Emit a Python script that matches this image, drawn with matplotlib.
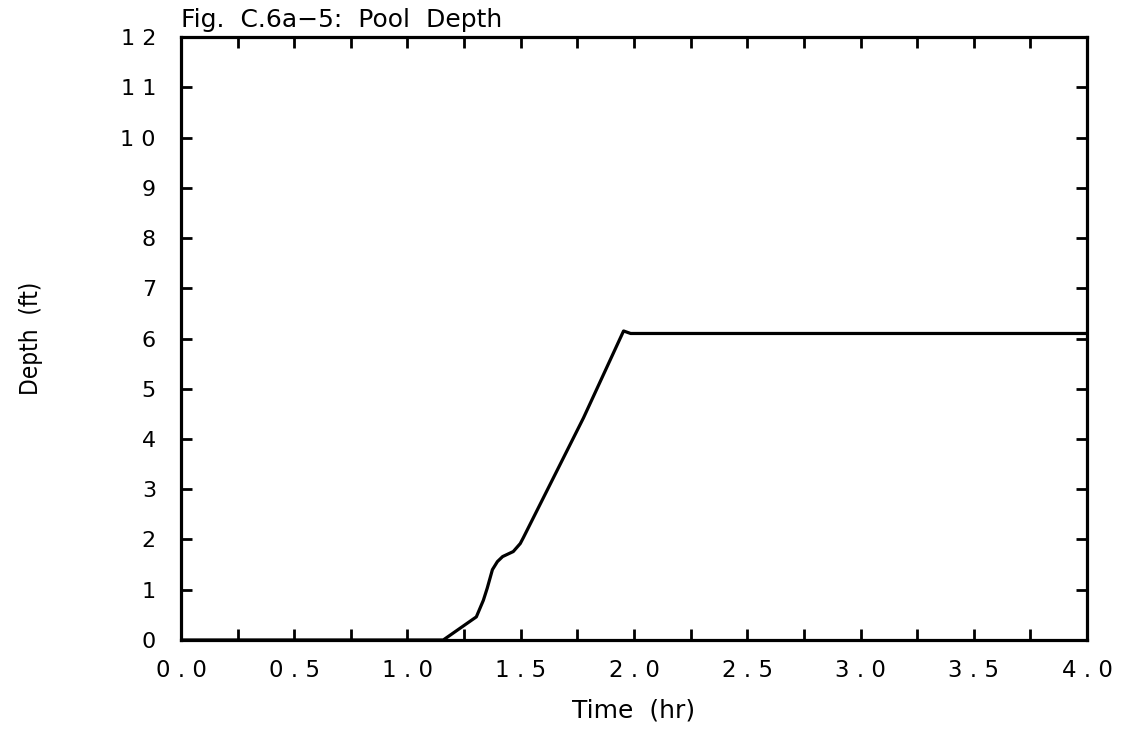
import numpy as np
import matplotlib.pyplot as plt

# Pool depth curve
time_hr = [0.0, 1.158, 1.304, 1.335, 1.352, 1.375, 1.397, 1.42, 1.467, 1.498,
           1.512, 1.777, 1.954, 1.985, 4.0]
depth_ft = [0.0, 0.0, 0.46, 0.79, 1.03, 1.40, 1.56, 1.66, 1.76, 1.92,
            2.04, 4.42, 6.15, 6.10, 6.10]

x_ticks = np.arange(0, 4.01, 0.5)
x_labels = ['0 . 0', '0 . 5', '1 . 0', '1 . 5', '2 . 0', '2 . 5', '3 . 0', '3 . 5', '4 . 0']
y_ticks = np.arange(0, 13, 1)
y_labels = ['0', '1', '2', '3', '4', '5', '6', '7', '8', '9', '1 0', '1 1', '1 2']

fig = plt.figure(figsize=(11.26, 7.30), dpi=100)
ax = fig.add_axes([0.1607, 0.1233, 0.8047, 0.826])

ax.plot(time_hr, depth_ft, color='black', lw=2.3, solid_joinstyle='round')

ax.set_xlim(0, 4)
ax.set_ylim(0, 12)

ax.set_xticks(x_ticks)
ax.set_xticklabels(x_labels, fontsize=16.5)
ax.set_xticks(np.arange(0.25, 4, 0.5), minor=True)
ax.set_yticks(y_ticks)
ax.set_yticklabels(y_labels, fontsize=16)

ax.tick_params(axis='both', which='both', direction='in', length=8, width=2,
               top=True, right=True, color='black')
ax.tick_params(axis='x', which='major', pad=14)
ax.tick_params(axis='y', which='major', pad=18)
ax.tick_params(axis='x', which='minor', labelbottom=False)

# keep the outermost ticks off the frame corners
for t in ax.yaxis.get_major_ticks()[::12]:
    t.tick1line.set_visible(False)
    t.tick2line.set_visible(False)
for t in [ax.xaxis.get_major_ticks()[0], ax.xaxis.get_major_ticks()[-1]]:
    t.tick1line.set_visible(False)
    t.tick2line.set_visible(False)

for s in ax.spines.values():
    s.set_linewidth(2.3)

ax.set_title('Fig.  C.6a\u22125:  Pool  Depth', loc='left', fontsize=18, pad=7)

ax.set_xlabel('Time  (hr)', fontsize=18)
ax.xaxis.set_label_coords(0.5, -0.097)
ax.set_ylabel('Depth  (ft)', fontsize=17.5, fontstretch='condensed')
ax.yaxis.set_label_coords(-0.152, 0.5)

fig.savefig('out.png', dpi=100)
